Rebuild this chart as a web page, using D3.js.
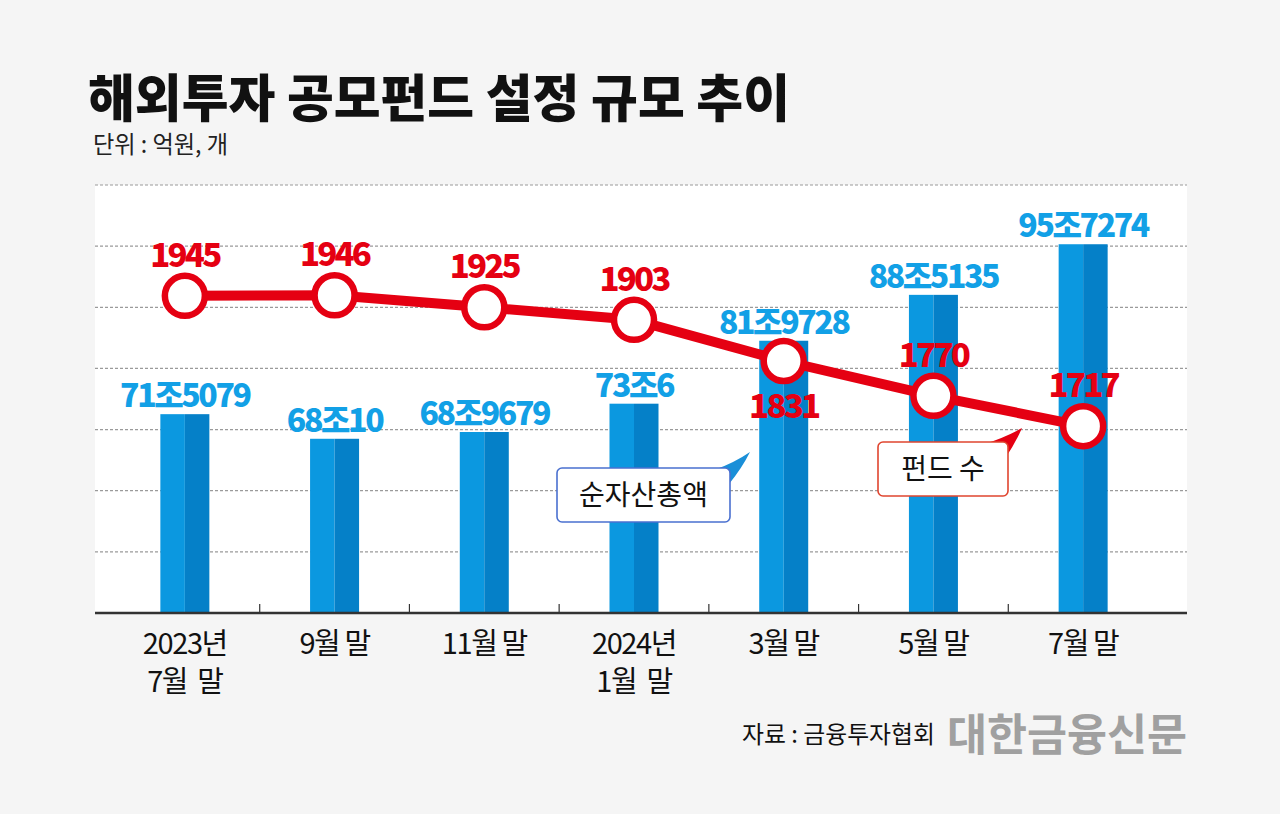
<!DOCTYPE html>
<html><head><meta charset="utf-8">
<script src="https://cdn.jsdelivr.net/npm/d3@7"></script>
<style>
html,body{margin:0;padding:0;background:#f5f5f5;}
svg{display:block;}
text{font-family:"Noto Sans CJK KR","Noto Sans",sans-serif;}
</style></head>
<body>
<svg id="c" width="1280" height="814"></svg>
<script>
// ---- data ----
const categories = ["2023년|7월  말", "9월 말", "11월 말", "2024년|1월  말", "3월 말", "5월 말", "7월 말"];
const netAssets = [715079, 680010, 689679, 730006, 819728, 885135, 957274]; // 억원
const netAssetLabels = ["71조5079", "68조10", "68조9679", "73조6", "81조9728", "88조5135", "95조7274"];
const fundCounts = [1945, 1946, 1925, 1903, 1831, 1770, 1717]; // 개
const fundLabelSide = ["above", "above", "above", "above", "below", "above", "above"];

const title = "해외투자 공모펀드 설정 규모 추이";
const unitText = "단위 : 억원, 개";
const sourceText = "자료 : 금융투자협회";
const brandText = "대한금융신문";

// ---- layout ----
const W = 1280, H = 814;
const plot = {left: 95, right: 1187, top: 185, bottom: 613};
const RED = "#e50012", BLUE_TXT = "#12a0e6", BAR_L = "#0b98e0", BAR_R = "#0580c8";

const svg = d3.select("#c");
svg.append("rect").attr("width", W).attr("height", H).attr("fill", "#f5f5f5");

const x = d3.scaleBand().domain(categories).range([110, 1158]).padding(0);
const yBar = d3.scaleLinear().domain([431700, 1041700]).range([plot.bottom, plot.top]);
const yLine = d3.scaleLinear().domain([1390, 2139]).range([plot.bottom, plot.top]);

// plot background
svg.append("rect").attr("x", plot.left).attr("y", plot.top)
  .attr("width", plot.right - plot.left).attr("height", plot.bottom - plot.top)
  .attr("fill", "#ffffff");

// gridlines
const d0 = yBar.domain()[0], d1 = yBar.domain()[1];
const gridVals = d3.range(0, 7).map(i => d0 + (i + 1) * (d1 - d0) / 7);
svg.append("g").selectAll("line").data(gridVals).join("line")
  .attr("x1", plot.left).attr("x2", plot.right)
  .attr("y1", d => yBar(d)).attr("y2", d => yBar(d))
  .attr("stroke", "#9a9a9a").attr("stroke-width", 1.2).attr("stroke-dasharray", "3,2");

// bars
const barW = 49;
const bars = svg.append("g");
categories.forEach((c, i) => {
  const cx = x(c) + x.bandwidth() / 2;
  const top = yBar(netAssets[i]);
  bars.append("rect").attr("x", cx - barW / 2).attr("y", top)
    .attr("width", barW / 2).attr("height", plot.bottom - top).attr("fill", BAR_L);
  bars.append("rect").attr("x", cx).attr("y", top)
    .attr("width", barW / 2).attr("height", plot.bottom - top).attr("fill", BAR_R);
  bars.append("text").attr("x", cx).attr("y", top - 7)
    .attr("text-anchor", "middle").attr("fill", BLUE_TXT)
    .attr("font-size", 32).attr("font-weight", 900).attr("letter-spacing", -2.4)
    .text(netAssetLabels[i]);
});

// axis
svg.append("line").attr("x1", plot.left).attr("x2", plot.right)
  .attr("y1", plot.bottom).attr("y2", plot.bottom)
  .attr("stroke", "#333").attr("stroke-width", 2.5);
const tickXs = categories.slice(1).map(c => x(c));
svg.append("g").selectAll("line").data(tickXs).join("line")
  .attr("x1", d => d).attr("x2", d => d)
  .attr("y1", plot.bottom).attr("y2", plot.bottom - 9)
  .attr("stroke", "#333").attr("stroke-width", 1.2);

// x labels (each line its own text)
categories.forEach(c => {
  const cx = x(c) + x.bandwidth() / 2;
  c.split("|").forEach((l, k) => {
    svg.append("text").attr("x", cx).attr("y", 654 + k * 38)
      .attr("text-anchor", "middle").attr("fill", "#111")
      .attr("font-size", 29).attr("font-weight", 400).attr("letter-spacing", -1.4)
      .attr("xml:space", "preserve").text(l);
  });
});

// line
const pts = categories.map((c, i) => [x(c) + x.bandwidth() / 2, yLine(fundCounts[i])]);
svg.append("path").attr("d", d3.line()(pts)).attr("fill", "none")
  .attr("stroke", RED).attr("stroke-width", 10).attr("stroke-linejoin", "round");
svg.append("g").selectAll("circle").data(pts).join("circle")
  .attr("cx", d => d[0]).attr("cy", d => d[1]).attr("r", 20)
  .attr("fill", "#fff").attr("stroke", RED).attr("stroke-width", 6.5);
pts.forEach((p, i) => {
  const below = fundLabelSide[i] === "below";
  svg.append("text").attr("x", p[0]).attr("y", below ? p[1] + 57 : p[1] - 29)
    .attr("text-anchor", "middle").attr("fill", RED)
    .attr("font-size", 33).attr("font-weight", 900).attr("letter-spacing", -2.8)
    .text(fundCounts[i]);
});

// callouts
function callout(bx, by, bw, bh, stroke, fill, tail, label, fs) {
  svg.append("path").attr("d", tail).attr("fill", fill);
  svg.append("rect").attr("x", bx).attr("y", by).attr("width", bw).attr("height", bh)
    .attr("rx", 5).attr("fill", "#fff").attr("stroke", stroke).attr("stroke-width", 1.6);
  svg.append("text").attr("x", bx + bw / 2).attr("y", by + bh / 2 + fs * 0.36)
    .attr("text-anchor", "middle").attr("fill", "#111")
    .attr("font-size", fs).attr("font-weight", 400).attr("xml:space", "preserve").text(label);
}
callout(557, 468, 173, 54, "#4a70d0", "#1a8fd8",
  "M714,470 Q734,463 750,452 Q742,468 729,484 Z", "순자산총액", 28);
callout(878, 442, 130, 54, "#e0452f", RED,
  "M984,444 Q1004,438 1022,428 Q1016,442 1006,457 Z", "펀드 수", 28);

// title & subtitle
svg.append("text").attr("x", 88).attr("y", 117).attr("fill", "#111")
  .attr("font-size", 51).attr("font-weight", 900)
  .attr("textLength", 702).attr("lengthAdjust", "spacingAndGlyphs").text(title);
svg.append("text").attr("x", 93).attr("y", 153).attr("fill", "#222")
  .attr("font-size", 24).attr("font-weight", 400)
  .attr("textLength", 135).attr("lengthAdjust", "spacingAndGlyphs").text(unitText);

// source & brand
svg.append("text").attr("x", 742).attr("y", 743).attr("fill", "#111")
  .attr("font-size", 24).attr("font-weight", 400)
  .attr("textLength", 193).attr("lengthAdjust", "spacingAndGlyphs").text(sourceText);
svg.append("text").attr("x", 947).attr("y", 751).attr("fill", "#a0a0a0")
  .attr("font-size", 44).attr("font-weight", 700)
  .attr("textLength", 240).attr("lengthAdjust", "spacingAndGlyphs").text(brandText);
</script>
</body></html>
